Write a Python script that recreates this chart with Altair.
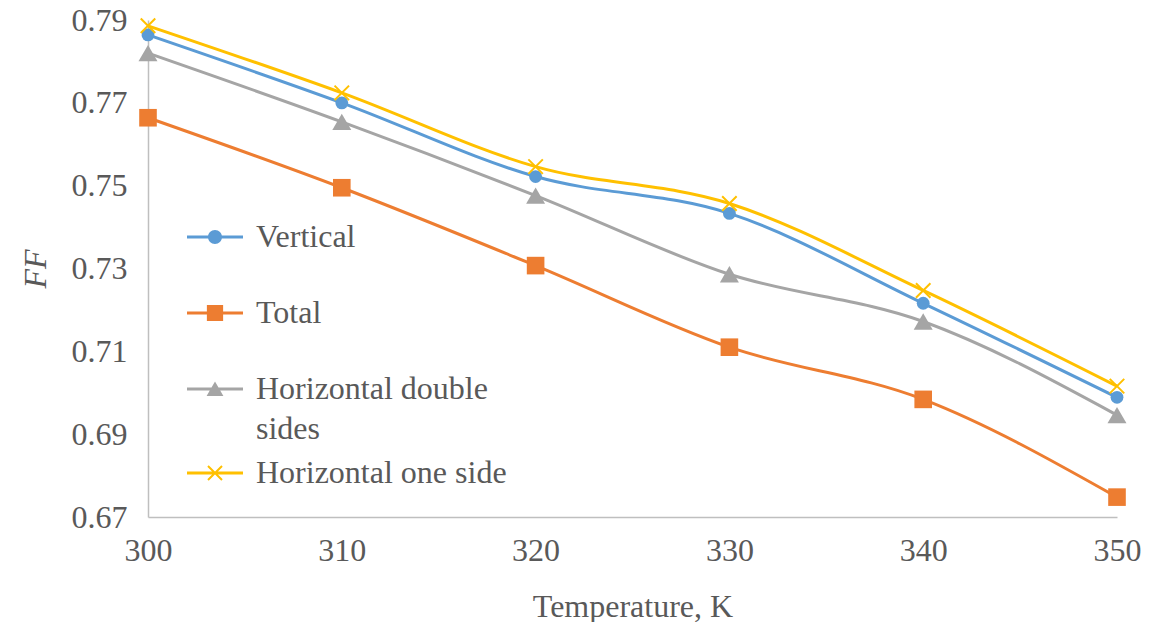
import altair as alt
import pandas as pd

temps = [300, 310, 320, 330, 340, 350]
series_names = ["Vertical", "Total", "Horizontal double sides", "Horizontal one side"]
vertical = [0.7864, 0.7700, 0.7522, 0.7433, 0.7216, 0.6989]
total = [0.7664, 0.7495, 0.7307, 0.7110, 0.6984, 0.6748]
h_double = [0.7820, 0.7654, 0.7476, 0.7286, 0.7172, 0.6946]
h_one = [0.7886, 0.7724, 0.7546, 0.7457, 0.7247, 0.7016]
colors = ["#5B9BD5", "#ED7D31", "#A5A5A5", "#FFC000"]
y_ticks = [0.67, 0.69, 0.71, 0.73, 0.75, 0.77, 0.79]
x_ticks = [300, 310, 320, 330, 340, 350]

rows = []
for name, vals in zip(series_names, [vertical, total, h_double, h_one]):
    for t, v in zip(temps, vals):
        rows.append({"T": t, "FF": v, "series": name})
df = pd.DataFrame(rows)

FONT = "Liberation Serif"
TXT = "#595959"

x_enc = alt.X("T:Q", scale=alt.Scale(domain=[300, 350], nice=False),
              axis=alt.Axis(values=x_ticks, title="Temperature, K", format="d",
                            labelPadding=18, titlePadding=25, labelFlush=False))
y_enc = alt.Y("FF:Q", scale=alt.Scale(domain=[0.67, 0.79], nice=False, zero=False),
              axis=alt.Axis(values=y_ticks, format=".2f", title="FF",
                            titleFontStyle="italic", labelPadding=21, titlePadding=19,
                            labelFlush=False))

base = alt.Chart(df)

marker_specs = [
    ("circle", True, 165, 0),
    ("square", True, 310, 0),
    ("triangle-up", True, 360, 0),
    ("M-1,-1L1,1M-1,1L1,-1", False, 210, 2),
]

layers = []
for name, color, (shp, filled, size, sw) in zip(series_names, colors, marker_specs):
    sub = base.transform_filter(alt.datum.series == name)
    layers.append(sub.mark_line(interpolate="monotone", strokeWidth=3, color=color).encode(
        x=x_enc, y=y_enc))
for name, color, (shp, filled, size, sw) in zip(series_names, colors, marker_specs):
    sub = base.transform_filter(alt.datum.series == name)
    kw = dict(shape=shp, filled=filled, size=size, opacity=1, color=color)
    if not filled:
        kw["strokeWidth"] = sw
    layers.append(sub.mark_point(**kw).encode(x=x_enc, y=y_enc))

# legend swatch: a line segment through the marker; the zero-area stem only sets row height
line_rect = "M0,0L0,1.7M-1,-0.054H1V0.054H-1Z"
legend_shapes = [
    line_rect + "M0.25,0A0.25,0.25 0 1,1 -0.25,0A0.25,0.25 0 1,1 0.25,0Z",
    line_rect + "M-0.29,-0.29H0.29V0.29H-0.29Z",
    line_rect + "M0,-0.27L0.3,0.25H-0.3Z",
    line_rect + "M-0.225,-0.275L0.275,0.225L0.225,0.275L-0.275,-0.225Z"
              + "M-0.275,0.225L0.225,-0.275L0.275,-0.225L-0.225,0.275Z",
]

legend_layer = base.transform_filter("false").mark_point(filled=True, opacity=1).encode(
    x=x_enc, y=y_enc,
    color=alt.Color("series:N", scale=alt.Scale(domain=series_names, range=colors),
                    legend=alt.Legend(title=None, orient="none", legendX=39, legendY=189,
                                      symbolSize=3136, symbolStrokeWidth=0,
                                      labelFont=FONT, labelFontSize=32, labelColor=TXT,
                                      labelOffset=13, rowPadding=0, padding=0,
                                      labelLimit=600,
                                      labelExpr="datum.label == 'Horizontal double sides' ? ['Horizontal double', 'sides'] : datum.label")),
    shape=alt.Shape("series:N", scale=alt.Scale(domain=series_names, range=legend_shapes)),
)
layers.append(legend_layer)

chart = alt.layer(*layers).properties(
    width=969, height=497,
    autosize=alt.AutoSizeParams(type="none"),
    padding={"left": 140, "top": 12, "right": 30, "bottom": 105},
).configure_view(stroke=None).configure_axis(
    grid=False, ticks=False, domainColor="#BFBFBF", domainWidth=1.5,
    labelFont=FONT, labelFontSize=32, labelColor=TXT,
    titleFont=FONT, titleFontSize=32, titleColor=TXT, titleFontWeight="normal",
)
chart.config.style = alt.StyleConfigIndex(**{"guide-label": {"lineHeight": 40}})

chart.save("out.html", embed_options={"renderer": "svg", "actions": False})
